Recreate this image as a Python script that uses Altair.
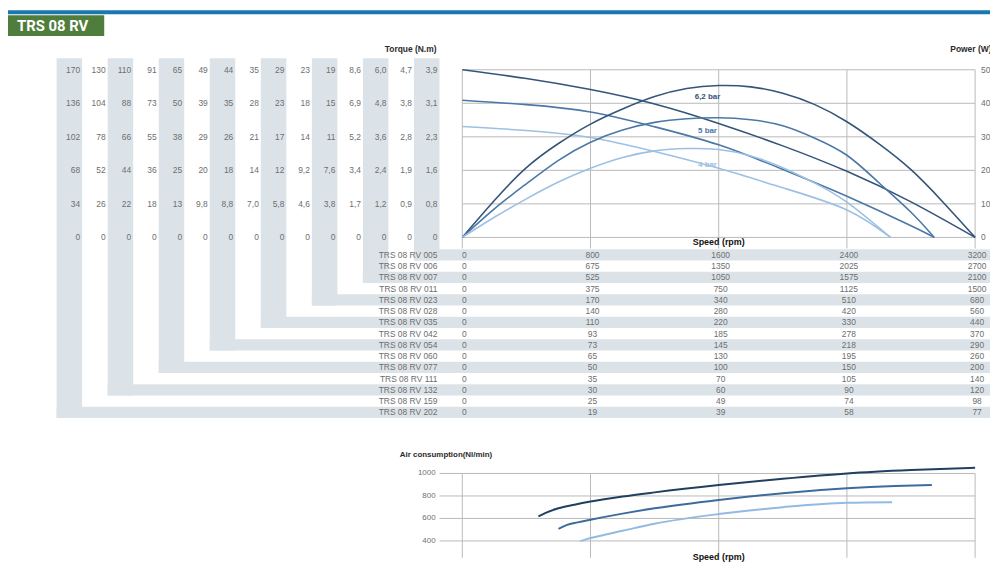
import altair as alt
import pandas as pd

W, H = 990, 557
FONT = "Liberation Sans"

# ---------------- data ----------------
badge_label = "TRS 08  RV"

models = ["TRS 08 RV 005", "TRS 08 RV 006", "TRS 08 RV 007", "TRS 08 RV 011",
          "TRS 08 RV 023", "TRS 08 RV 028", "TRS 08 RV 035", "TRS 08 RV 042",
          "TRS 08 RV 054", "TRS 08 RV 060", "TRS 08 RV 077", "TRS 08 RV 111",
          "TRS 08 RV 132", "TRS 08 RV 159", "TRS 08 RV 202"]

speed_table = [
    [0, 800, 1600, 2400, 3200],
    [0, 675, 1350, 2025, 2700],
    [0, 525, 1050, 1575, 2100],
    [0, 375, 750, 1125, 1500],
    [0, 170, 340, 510, 680],
    [0, 140, 280, 420, 560],
    [0, 110, 220, 330, 440],
    [0, 93, 185, 278, 370],
    [0, 73, 145, 218, 290],
    [0, 65, 130, 195, 260],
    [0, 50, 100, 150, 200],
    [0, 35, 70, 105, 140],
    [0, 30, 60, 90, 120],
    [0, 25, 49, 74, 98],
    [0, 19, 39, 58, 77],
]

# torque columns, left to right (top row = power 50, bottom row = 0)
torque_cols = [
    ["170", "136", "102", "68", "34", "0"],
    ["130", "104", "78", "52", "26", "0"],
    ["110", "88", "66", "44", "22", "0"],
    ["91", "73", "55", "36", "18", "0"],
    ["65", "50", "38", "25", "13", "0"],
    ["49", "39", "29", "20", "9,8", "0"],
    ["44", "35", "26", "18", "8,8", "0"],
    ["35", "28", "21", "14", "7,0", "0"],
    ["29", "23", "17", "12", "5,8", "0"],
    ["23", "18", "14", "9,2", "4,6", "0"],
    ["19", "15", "11", "7,6", "3,8", "0"],
    ["8,6", "6,9", "5,2", "3,4", "1,7", "0"],
    ["6,0", "4,8", "3,6", "2,4", "1,2", "0"],
    ["4,7", "3,8", "2,8", "1,9", "0,9", "0"],
    ["3,9", "3,1", "2,3", "1,6", "0,8", "0"],
]

power_ticks = [50, 40, 30, 20, 10, 0]
speed_ticks = [0, 800, 1600, 2400, 3200]
air_ticks = [1000, 800, 600, 400]

series_names = ["6,2 bar", "5 bar", "4 bar"]

# torque curves (read in power-axis units)
t62_speed = [0, 400, 800, 1200, 1600, 2000, 2400, 2800, 3200]
t62_val = [50, 47.4, 44.1, 39.8, 34.0, 27.3, 19.7, 10.6, 0]
t5_speed = [0, 400, 800, 1200, 1600, 2000, 2400, 2800, 2945]
t5_val = [40.9, 39.6, 37.4, 33.0, 27.6, 20.3, 12.3, 3.5, 0]
t4_speed = [0, 400, 800, 1200, 1600, 2000, 2400, 2672]
t4_val = [33.1, 31.9, 29.8, 25.6, 20.6, 14.8, 8.2, 0]

# power curves
p62_speed = [0, 200, 400, 600, 800, 1000, 1200, 1400, 1600, 1800, 2000, 2200, 2400, 2600, 2800, 3000, 3200]
p62_val = [0, 11, 20.8, 28.0, 33.8, 38.3, 42.0, 44.4, 45.3, 44.9, 43.0, 39.6, 34.5, 27.9, 20.2, 10.5, 0]
p5_speed = [0, 200, 400, 600, 800, 1000, 1200, 1400, 1600, 1800, 2000, 2200, 2400, 2600, 2800, 2945]
p5_val = [0, 8.5, 16.0, 23.0, 28.4, 32.0, 34.3, 35.4, 35.7, 35.1, 33.3, 29.6, 24.5, 16.3, 7.5, 0]
p4_speed = [0, 200, 400, 600, 800, 1000, 1200, 1400, 1600, 1800, 2000, 2200, 2400, 2672]
p4_val = [0, 6.0, 11.5, 16.5, 20.6, 23.8, 25.8, 26.5, 26.2, 24.3, 20.8, 16.2, 10.5, 0]

# air consumption curves (Nl/min)
a62_speed = [475, 520, 600, 700, 800, 1000, 1200, 1600, 2000, 2400, 2800, 3200]
a62_val = [619, 650, 690, 722, 750, 795, 832, 897, 953, 1000, 1030, 1050]
a5_speed = [600, 650, 720, 800, 1000, 1200, 1600, 2000, 2400, 2700, 2930]
a5_val = [507, 540, 565, 589, 643, 690, 765, 825, 868, 888, 897]
a4_speed = [737, 780, 850, 1000, 1200, 1600, 2000, 2400, 2682]
a4_val = [398, 418, 442, 490, 553, 639, 700, 740, 745]

# ---------------- styles / layout ----------------
C_DARK, C_MED, C_LIGHT = "#34557a", "#4b78a6", "#9dc0e3"
A_DARK, A_MED, A_LIGHT = "#213f60", "#3d6c9c", "#93bbe2"
GRAY_BAND = "#dce3e8"
GRID = "#b9b9b9"
TXT = "#6e6e6e"
TITLE = "#2b2b2b"


def sc(dom, rng):
    return alt.Scale(domain=dom, range=rng, nice=False, zero=False)


XS = sc([0, 3200], [458, 975])      # speed (main + air)
YP = sc([0, 50], [229, 60])          # power / torque rows
XC = sc([0, 15], [49, 435])          # torque columns
YR = sc([0, 15], [241, 411])         # model rows
XT = sc([0, 4], [458, 975])          # speed-table columns
YA = sc([400, 1000], [535, 467])     # air consumption

COL_TOP = -17.0
BAND_END = 36.7
GRID_BOTTOM = -3.3
AIR_LEFT = -142
AIR_BOTTOM = 250


def q(f, s):
    return alt.X(f + ":Q", scale=s, axis=None)


def qy(f, s):
    return alt.Y(f + ":Q", scale=s, axis=None)


layers = []

# banner and badge (decorative frame)
one = pd.DataFrame({"t": [badge_label]})
layers.append(alt.Chart(one).mark_rect(color="#1a78b0").encode(
    x=alt.value(0), x2=alt.value(W), y=alt.value(0), y2=alt.value(4)))
layers.append(alt.Chart(one).mark_rect(color="#4e7d3c").encode(
    x=alt.value(0), x2=alt.value(97), y=alt.value(5), y2=alt.value(26)))
layers.append(alt.Chart(one).mark_text(align="left", baseline="middle", font="Roboto",
                                       fontWeight="bold", fontSize=15, color="white").encode(
    x=alt.value(9), y=alt.value(16), text="t:N"))

# gray L-shaped bands of the table
bands = []
for j in range(0, 15, 2):
    bands.append({"x": j, "x2": j + 1, "y": COL_TOP, "y2": 15 - j})
for i in range(0, 15, 2):
    bands.append({"x": 14 - i, "x2": BAND_END, "y": i, "y2": i + 1})
layers.append(alt.Chart(pd.DataFrame(bands)).mark_rect(color=GRAY_BAND).encode(
    x=q("x", XC), x2="x2:Q", y=qy("y", YR), y2="y2:Q"))

# torque numbers
tq = []
for j, col in enumerate(torque_cols):
    for r, s in enumerate(col):
        tq.append({"c": j + 1, "p": power_ticks[r], "t": s})
layers.append(alt.Chart(pd.DataFrame(tq)).mark_text(
    align="right", baseline="middle", dx=-2, font=FONT, fontSize=8.5, color=TXT).encode(
    x=q("c", XC), y=qy("p", YP), text="t:N"))

layers.append(alt.Chart(pd.DataFrame({"c": [15], "p": [56.3], "t": ["Torque (N.m)"]})).mark_text(
    align="right", baseline="middle", dx=-3, font=FONT, fontSize=8.5, fontWeight="bold",
    color=TITLE).encode(x=q("c", XC), y=qy("p", YP), text="t:N"))

# model names
mn = [{"c": 15, "r": i + 0.5, "t": m} for i, m in enumerate(models)]
layers.append(alt.Chart(pd.DataFrame(mn)).mark_text(
    align="right", baseline="middle", dx=-2, font=FONT, fontSize=8.5, color=TXT).encode(
    x=q("c", XC), y=qy("r", YR), text="t:N"))

# speed table values
sv = []
for i, row in enumerate(speed_table):
    for k, v in enumerate(row):
        sv.append({"k": k, "r": i + 0.5, "t": str(v)})
layers.append(alt.Chart(pd.DataFrame(sv)).mark_text(
    align="center", baseline="middle", dx=2, font=FONT, fontSize=8.5, color=TXT).encode(
    x=q("k", XT), y=qy("r", YR), text="t:N"))

# main grid
hg = [{"x": 0, "x2": 3200, "y": p} for p in power_ticks]
layers.append(alt.Chart(pd.DataFrame(hg)).mark_rule(color=GRID, strokeWidth=1).encode(
    x=q("x", XS), x2="x2:Q", y=qy("y", YP)))
vg = [{"x": s, "y": 50, "y2": GRID_BOTTOM} for s in speed_ticks]
layers.append(alt.Chart(pd.DataFrame(vg)).mark_rule(color=GRID, strokeWidth=1).encode(
    x=q("x", XS), y=qy("y", YP), y2="y2:Q"))

# curves
curves = []
for name, kind, sp, vals in [
    ("6,2 bar", "torque", t62_speed, t62_val), ("5 bar", "torque", t5_speed, t5_val),
    ("4 bar", "torque", t4_speed, t4_val), ("6,2 bar", "power", p62_speed, p62_val),
    ("5 bar", "power", p5_speed, p5_val), ("4 bar", "power", p4_speed, p4_val)]:
    for s, v in zip(sp, vals):
        curves.append({"series": name, "kind": kind, "id": name + kind, "s": s, "v": v})
layers.append(alt.Chart(pd.DataFrame(curves)).mark_line(interpolate="natural", strokeWidth=1.6).encode(
    x=q("s", XS), y=qy("v", YP),
    color=alt.Color("series:N", scale=alt.Scale(domain=series_names, range=[C_DARK, C_MED, C_LIGHT]),
                    legend=None),
    detail="id:N", order="s:Q"))

# bar labels
bl = pd.DataFrame({"series": series_names, "s": [1530, 1530, 1530], "v": [41.8, 31.7, 21.6]})
layers.append(alt.Chart(bl).mark_text(align="center", baseline="middle", font=FONT, fontSize=8,
                                      fontWeight="bold").encode(
    x=q("s", XS), y=qy("v", YP), text="series:N",
    color=alt.Color("series:N", scale=alt.Scale(domain=series_names, range=[C_DARK, C_MED, C_LIGHT]),
                    legend=None)))

# right axis labels
ra = pd.DataFrame({"s": [3200] * 6, "v": power_ticks, "t": [str(p) for p in power_ticks]})
layers.append(alt.Chart(ra).mark_text(align="left", baseline="middle", dx=6, font=FONT, fontSize=8.5,
                                      color=TXT).encode(x=q("s", XS), y=qy("v", YP), text="t:N"))

titles_main = pd.DataFrame({"s": [3045, 1600], "v": [56.3, -1.5], "t": ["Power (W)", "Speed (rpm)"]})
layers.append(alt.Chart(titles_main.iloc[[0]]).mark_text(
    align="left", baseline="middle", font=FONT, fontSize=8.5, fontWeight="bold", color=TITLE).encode(
    x=q("s", XS), y=qy("v", YP), text="t:N"))
layers.append(alt.Chart(titles_main.iloc[[1]]).mark_text(
    align="center", baseline="middle", font=FONT, fontSize=9, fontWeight="bold", color="#111111").encode(
    x=q("s", XS), y=qy("v", YP), text="t:N"))

# air consumption grid
ahg = [{"x": AIR_LEFT, "x2": 3200, "y": a} for a in air_ticks]
layers.append(alt.Chart(pd.DataFrame(ahg)).mark_rule(color=GRID, strokeWidth=1).encode(
    x=q("x", XS), x2="x2:Q", y=qy("y", YA)))
avg = [{"x": s, "y": 1000, "y2": AIR_BOTTOM} for s in speed_ticks]
layers.append(alt.Chart(pd.DataFrame(avg)).mark_rule(color=GRID, strokeWidth=1).encode(
    x=q("x", XS), y=qy("y", YA), y2="y2:Q"))

air = []
for name, sp, vals in [("6,2 bar", a62_speed, a62_val), ("5 bar", a5_speed, a5_val),
                       ("4 bar", a4_speed, a4_val)]:
    for s, v in zip(sp, vals):
        air.append({"series": name, "s": s, "v": v})
layers.append(alt.Chart(pd.DataFrame(air)).mark_line(interpolate="monotone", strokeWidth=2).encode(
    x=q("s", XS), y=qy("v", YA),
    color=alt.Color("series:N", scale=alt.Scale(domain=series_names, range=[A_DARK, A_MED, A_LIGHT]),
                    legend=None),
    detail="series:N", order="s:Q"))

al = pd.DataFrame({"s": [AIR_LEFT] * 4, "v": air_ticks, "t": [str(a) for a in air_ticks]})
layers.append(alt.Chart(al).mark_text(align="right", baseline="middle", dx=-4, font=FONT, fontSize=8,
                                      color=TXT).encode(x=q("s", XS), y=qy("v", YA), text="t:N"))

layers.append(alt.Chart(pd.DataFrame({"s": [-390], "v": [1168], "t": ["Air consumption(Nl/min)"]})).mark_text(
    align="left", baseline="middle", font=FONT, fontSize=8, fontWeight="bold", color=TITLE).encode(
    x=q("s", XS), y=qy("v", YA), text="t:N"))
layers.append(alt.Chart(pd.DataFrame({"s": [1600], "v": [258], "t": ["Speed (rpm)"]})).mark_text(
    align="center", baseline="middle", font=FONT, fontSize=9, fontWeight="bold", color="#111111").encode(
    x=q("s", XS), y=qy("v", YA), text="t:N"))

chart = alt.layer(*layers).resolve_scale(x="independent", y="independent", color="independent").properties(
    width=W, height=H, autosize=alt.AutoSizeParams(type="none"), padding=0
).configure_view(strokeWidth=0)

chart.save("out.html", embed_options={"renderer": "svg", "actions": False})
